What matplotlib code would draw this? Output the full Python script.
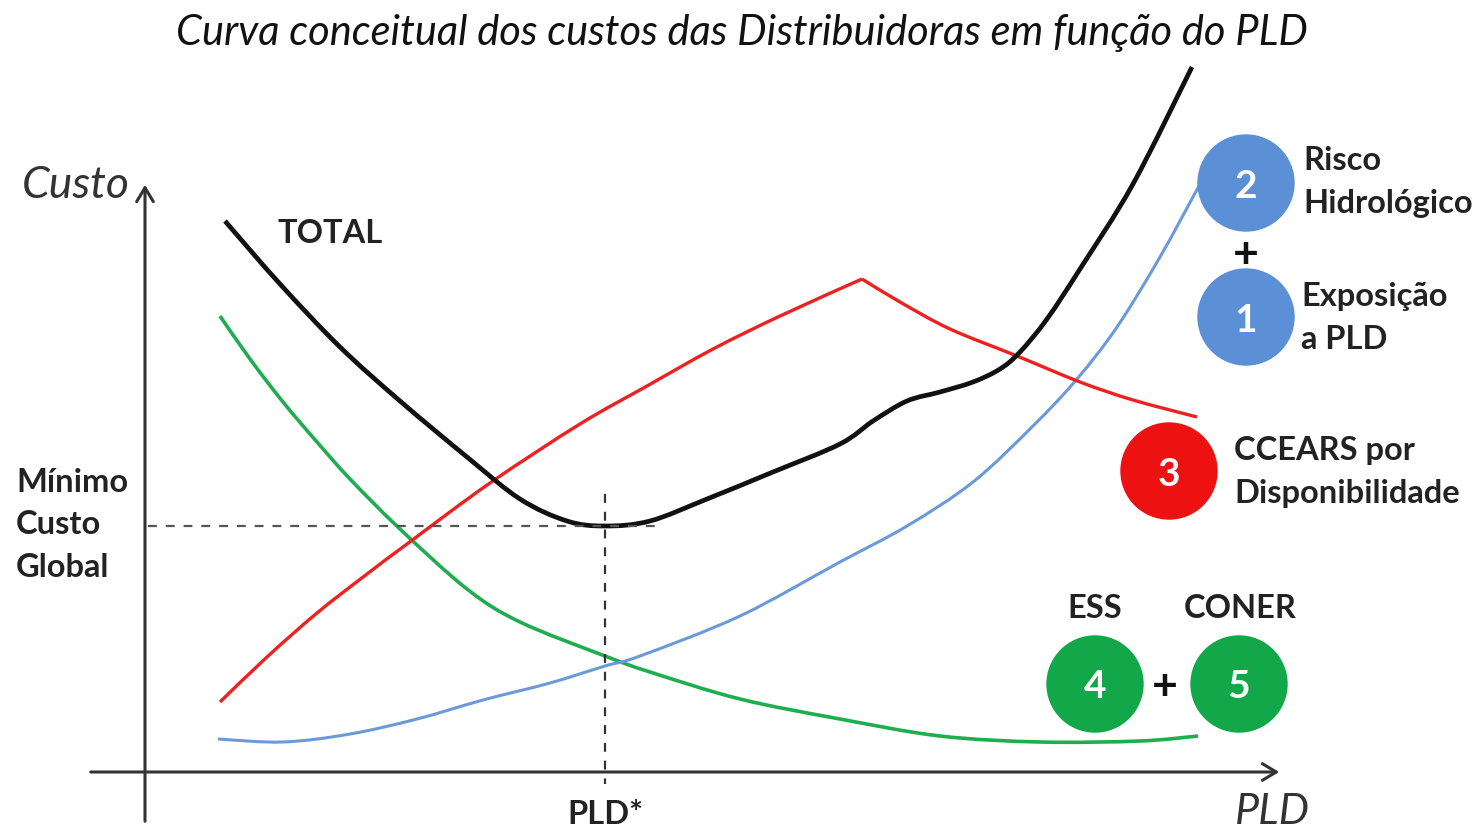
import numpy as np
import matplotlib.pyplot as plt
from matplotlib.path import Path
from matplotlib.patches import Circle, FancyArrowPatch, PathPatch

# curve points (x = PLD position, y = cost position, screen units)
total_x = [225, 280, 340, 400, 467, 520, 567, 605, 650, 707, 773, 840, 873, 907, 940, 973, 1000,
           1020, 1047, 1080, 1133, 1192]
total_y = [222, 285, 348, 402, 458, 500, 522, 527, 522, 500, 473, 445, 422, 402, 393, 383, 370,
           353, 320, 270, 185, 68]

# red curve has a sharp corner at the peak, so it is kept as two pieces
ccear_up_x = [220, 267, 317, 367, 407, 490, 580, 647, 713, 780, 862]
ccear_up_y = [703, 658, 614, 575, 545, 484, 425, 387, 350, 317, 280]
ccear_down_x = [862, 900, 950, 1017, 1080, 1133, 1197]
ccear_down_y = [280, 303, 330, 357, 383, 401, 418]

ess_x = [220, 250, 283, 317, 350, 400, 467, 520, 605, 650, 740, 840, 940, 1040, 1140, 1198]
ess_y = [317, 360, 403, 443, 480, 530, 590, 623, 657, 673, 700, 720, 737, 743, 742, 737]

risco_x = [218, 283, 350, 417, 483, 550, 605, 640, 740, 840, 907, 973, 1033, 1077, 1117, 1160, 1200]
risco_y = [740, 743, 735, 720, 701, 684, 667, 657, 617, 563, 527, 483, 427, 380, 328, 258, 185]

pld_star = 605
min_cost = 527

# numbered bubbles: label, x, y, colour
bubble_num = ['2', '1', '3', '4', '5']
bubble_x = [1246, 1246, 1169, 1095, 1239]
bubble_y = [184, 318, 472, 685, 685]
bubble_col = ['#5b8fd6', '#5b8fd6', '#ee1111', '#12a84a', '#12a84a']


def smooth_path(xs, ys):
    # Catmull-Rom through the points, drawn as cubic bezier pieces
    p = np.column_stack([xs, ys]).astype(float)
    verts = [p[0]]
    codes = [Path.MOVETO]
    for i in range(len(p) - 1):
        p0 = p[i - 1] if i > 0 else p[i]
        p3 = p[i + 2] if i + 2 < len(p) else p[i + 1]
        c1 = p[i] + (p[i + 1] - p0) / 6
        c2 = p[i + 1] - (p3 - p[i]) / 6
        verts += [c1, c2, p[i + 1]]
        codes += [Path.CURVE4] * 3
    return Path(verts, codes)


def curve(ax, xs, ys, **kw):
    ax.add_patch(PathPatch(smooth_path(xs, ys), fill=False, capstyle='butt', joinstyle='round', **kw))


plt.rcParams['font.family'] = ['Lato', 'DejaVu Sans']

fig = plt.figure(figsize=(14.76, 8.29), dpi=100)
ax = fig.add_axes([0, 0, 1, 1])
ax.set_xlim(0, 1476)
ax.set_ylim(829, 0)
ax.axis('off')

# axes with arrows
ax.add_patch(FancyArrowPatch((145, 825), (145, 183), arrowstyle='->,head_length=10,head_width=6',
                             lw=2.2, color='#333333', mutation_scale=1))
ax.add_patch(FancyArrowPatch((88, 773), (1282, 773), arrowstyle='->,head_length=10,head_width=6',
                             lw=2.2, color='#333333', mutation_scale=1))

# reference dashed lines
ax.plot([148, 660], [min_cost, min_cost], ls=(0, (4, 4)), color='#555555', lw=1.6)
ax.plot([pld_star, pld_star], [495, 785], ls=(0, (4, 4)), color='#333333', lw=1.6)

curve(ax, ess_x, ess_y, edgecolor='#1fae4f', lw=2.6)
curve(ax, risco_x, risco_y, edgecolor='#6a9ad9', lw=2.2)
curve(ax, ccear_up_x, ccear_up_y, edgecolor='#ee2020', lw=2.4)
curve(ax, ccear_down_x, ccear_down_y, edgecolor='#ee2020', lw=2.4)
curve(ax, total_x, total_y, edgecolor='#111111', lw=3.4)

for n, x, y, c in zip(bubble_num, bubble_x, bubble_y, bubble_col):
    ax.add_patch(Circle((x, y), 48, color=c, zorder=5))
    ax.text(x, y + 2, n, color='white', fontsize=28, fontweight='bold', ha='center', va='center', zorder=6)

ax.text(1246, 255, '+', fontsize=32, fontweight='bold', ha='center', va='center', color='#111111')
ax.text(1165, 687, '+', fontsize=32, fontweight='bold', ha='center', va='center', color='#111111')

lab = dict(fontsize=23.5, fontweight='bold', color='#222222', linespacing=1.55)
ax.text(1303, 182, 'Risco\nHidrológico', ha='left', va='center', **lab)
ax.text(1301, 318, 'Exposição\na PLD', ha='left', va='center', **lab)
ax.text(1234, 472, 'CCEARS por\nDisponibilidade', ha='left', va='center', **lab)
ax.text(1095, 608, 'ESS', ha='center', va='center', **lab)
ax.text(1240, 608, 'CONER', ha='center', va='center', **lab)
ax.text(278, 233, 'TOTAL', ha='left', va='center', **lab)
ax.text(16, 525, 'Mínimo\nCusto\nGlobal', ha='left', va='center', **lab)
ax.text(pld_star, 815, 'PLD*', ha='center', va='center', **lab)

ax.text(22, 185, 'Custo', fontsize=32, style='italic', color='#333333', ha='left', va='center')
ax.text(1235, 812, 'PLD', fontsize=31, style='italic', color='#333333', ha='left', va='center')
ax.text(742, 33, 'Curva conceitual dos custos das Distribuidoras em função do PLD',
        fontsize=30, style='italic', color='#111111', ha='center', va='center')

fig.savefig('out.png', dpi=100)
